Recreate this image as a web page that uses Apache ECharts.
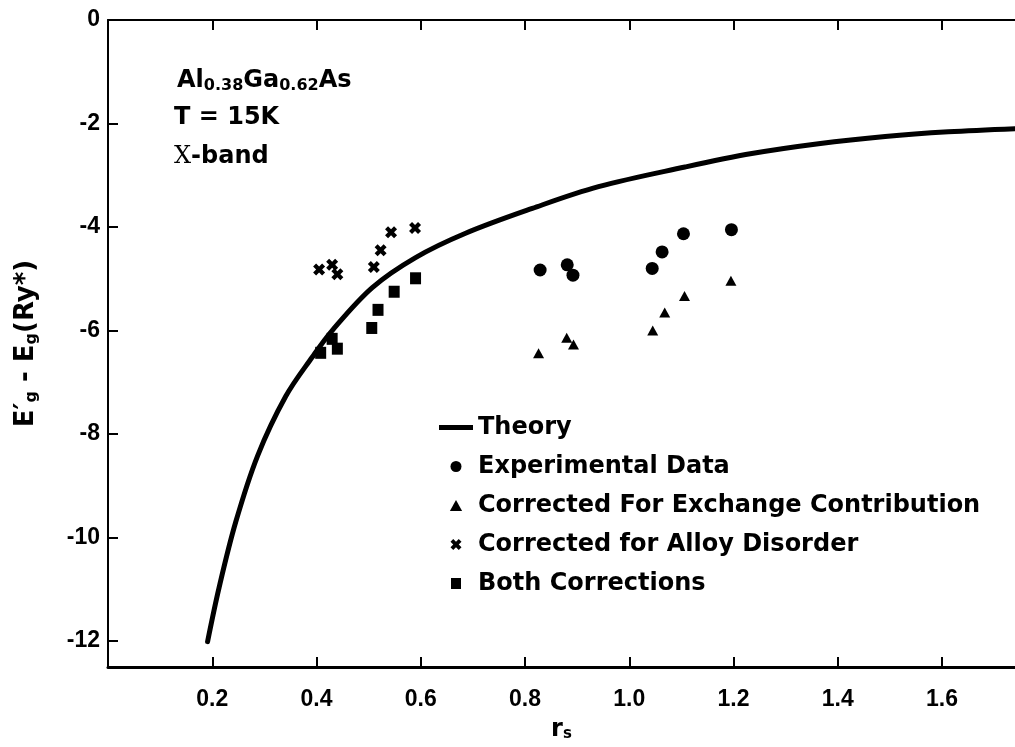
<!DOCTYPE html>
<html>
<head>
<meta charset="utf-8">
<script src="https://cdn.jsdelivr.net/npm/echarts@6/dist/echarts.min.js"></script>
<style>
  html, body { margin: 0; padding: 0; background: #ffffff; }
  #chart { width: 1015px; height: 747px; }
</style>
</head>
<body>
<div id="chart"></div>
<script>
// Theory curve: band-gap renormalisation vs r_s
const theoryRs  = [0.191, 0.213, 0.245, 0.287, 0.341, 0.392, 0.430, 0.507, 0.590, 0.686, 0.814, 0.941, 1.107, 1.235, 1.363, 1.491, 1.612, 1.740];
const theoryGap = [-12.01, -10.97, -9.70, -8.42, -7.27, -6.51, -6.00, -5.17, -4.59, -4.12, -3.64, -3.22, -2.84, -2.58, -2.39, -2.25, -2.16, -2.10];

// Measured points and their corrected versions
const expRs    = [0.829, 0.881, 0.892, 1.044, 1.063, 1.104, 1.196];
const expGap   = [-4.83, -4.73, -4.93, -4.80, -4.48, -4.13, -4.05];
const exchRs   = [0.826, 0.880, 0.893, 1.045, 1.068, 1.106, 1.195];
const exchGap  = [-6.44, -6.14, -6.27, -6.00, -5.65, -5.33, -5.04];
const alloyRs  = [0.405, 0.430, 0.440, 0.510, 0.523, 0.543, 0.589];
const alloyGap = [-4.82, -4.73, -4.91, -4.77, -4.45, -4.10, -4.02];
const bothRs   = [0.408, 0.430, 0.440, 0.506, 0.518, 0.549, 0.590];
const bothGap  = [-6.43, -6.16, -6.35, -5.95, -5.60, -5.25, -4.99];

// Axis ticks
const xTicks = [0.2, 0.4, 0.6, 0.8, 1.0, 1.2, 1.4, 1.6];
const yTicks = [-12, -10, -8, -6, -4, -2, 0];

const seriesNames = ['Theory', 'Experimental Data', 'Corrected For Exchange Contribution', 'Corrected for Alloy Disorder', 'Both Corrections'];

const zip = (xs, ys) => xs.map((x, i) => [x, ys[i]]);

const CROSS = 'path://M3,0 L6,3 L9,0 L12,3 L9,6 L12,9 L9,12 L6,9 L3,12 L0,9 L3,6 L0,3 Z';
const TRI = 'path://M5,0 L10,9 L0,9 Z';
const SQUARE = 'path://M0,0 L10,0 L10,11 L0,11 Z';
const BAR = 'path://M0,0 L34,0 L34,5 L0,5 Z';

const TXT = 'DejaVu Sans';
const TICK_FONT = 'Liberation Sans';

const chart = echarts.init(document.getElementById('chart'), null, { renderer: 'canvas' });

const baseX = {
  type: 'value', min: 0, max: 1.74,
  splitLine: { show: false },
  axisTick: { show: true, inside: true, length: 10, lineStyle: { color: '#000', width: 2 }, customValues: xTicks }
};

chart.setOption({
  animation: false,
  backgroundColor: '#ffffff',
  grid: { left: 108, top: 20, width: 908, height: 653, containLabel: false },
  xAxis: [
    Object.assign({}, baseX, {
      position: 'bottom',
      axisLine: { show: true, onZero: false, lineStyle: { color: '#000', width: 3 } },
      axisLabel: {
        show: true, customValues: xTicks, margin: 21,
        color: '#000', fontFamily: TICK_FONT, fontWeight: 'bold', fontSize: 23,
        formatter: v => v.toFixed(1)
      },
      name: '{r|r}{s|s}', nameLocation: 'middle', nameGap: 50,
      nameTextStyle: {
        color: '#000',
        rich: {
          r: { fontFamily: TXT, fontWeight: 'bold', fontSize: 24, color: '#000' },
          s: { fontFamily: TXT, fontWeight: 'bold', fontSize: 15, color: '#000', verticalAlign: 'bottom', padding: [10, 0, 0, 0] }
        }
      }
    }),
    Object.assign({}, baseX, {
      position: 'top',
      axisLine: { show: true, onZero: false, lineStyle: { color: '#000', width: 2 } },
      axisLabel: { show: false }
    })
  ],
  yAxis: {
    type: 'value', min: -12.5, max: 0,
    splitLine: { show: false },
    axisLine: { show: true, onZero: false, lineStyle: { color: '#000', width: 2 } },
    axisTick: { show: true, inside: true, length: 10, lineStyle: { color: '#000', width: 2 }, customValues: yTicks },
    axisLabel: {
      show: true, customValues: yTicks, margin: 8,
      color: '#000', fontFamily: TICK_FONT, fontWeight: 'bold', fontSize: 23
    },
    name: '{e|E′}{s|g}{e| - E}{s|g}{e|(Ry*)}', nameLocation: 'middle', nameGap: 68, nameRotate: 90,
    nameTextStyle: {
      color: '#000',
      rich: {
        e: { fontFamily: TXT, fontWeight: 'bold', fontSize: 26, color: '#000' },
        s: { fontFamily: TXT, fontWeight: 'bold', fontSize: 16, color: '#000', verticalAlign: 'bottom', padding: [11, 0, 0, 0] }
      }
    }
  },
  legend: {
    orient: 'vertical', left: 439, top: 415, padding: 0,
    itemWidth: 34, itemHeight: 11, itemGap: 14,
    selectedMode: false,
    data: [
      { name: seriesNames[0], icon: BAR },
      { name: seriesNames[1], icon: 'circle' },
      { name: seriesNames[2], icon: TRI },
      { name: seriesNames[3], icon: CROSS },
      { name: seriesNames[4], icon: SQUARE }
    ],
    textStyle: { color: '#000', fontFamily: TXT, fontWeight: 'bold', fontSize: 24, lineHeight: 25 }
  },
  graphic: [
    {
      type: 'text', left: 177, top: 69,
      style: {
        text: '{m|Al}{b|0.38}{m|Ga}{b|0.62}{m|As}',
        rich: {
          m: { fontFamily: TXT, fontWeight: 'bold', fontSize: 24, fill: '#000' },
          b: { fontFamily: TXT, fontWeight: 'bold', fontSize: 16, fill: '#000', verticalAlign: 'bottom', padding: [9, 0, 0, 0] }
        }
      }
    },
    {
      type: 'text', left: 174, top: 106,
      style: { text: 'T = 15K', fontFamily: TXT, fontWeight: 'bold', fontSize: 24, fill: '#000' }
    },
    {
      type: 'text', left: 174, top: 145,
      style: {
        text: '{x|X}{m|-band}',
        rich: {
          x: { fontFamily: 'DejaVu Serif', fontWeight: 'normal', fontSize: 24, fill: '#000' },
          m: { fontFamily: TXT, fontWeight: 'bold', fontSize: 24, fill: '#000' }
        }
      }
    }
  ],
  series: [
    {
      name: seriesNames[0], type: 'line', xAxisIndex: 0,
      data: zip(theoryRs, theoryGap),
      smooth: 0.35, showSymbol: false, symbol: 'none',
      lineStyle: { color: '#000', width: 5, cap: 'round' },
      itemStyle: { color: '#000' },
      z: 3
    },
    {
      name: seriesNames[1], type: 'scatter', xAxisIndex: 0,
      data: zip(expRs, expGap), symbol: 'circle', symbolSize: 13,
      itemStyle: { color: '#000', opacity: 1 }
    },
    {
      name: seriesNames[2], type: 'scatter', xAxisIndex: 0,
      data: zip(exchRs, exchGap), symbol: TRI, symbolSize: [11, 10],
      itemStyle: { color: '#000', opacity: 1 }
    },
    {
      name: seriesNames[3], type: 'scatter', xAxisIndex: 0,
      data: zip(alloyRs, alloyGap), symbol: CROSS, symbolSize: 12,
      itemStyle: { color: '#000', opacity: 1 }
    },
    {
      name: seriesNames[4], type: 'scatter', xAxisIndex: 0,
      data: zip(bothRs, bothGap), symbol: SQUARE, symbolSize: [11, 12],
      itemStyle: { color: '#000', opacity: 1 }
    }
  ]
});
</script>
</body>
</html>
